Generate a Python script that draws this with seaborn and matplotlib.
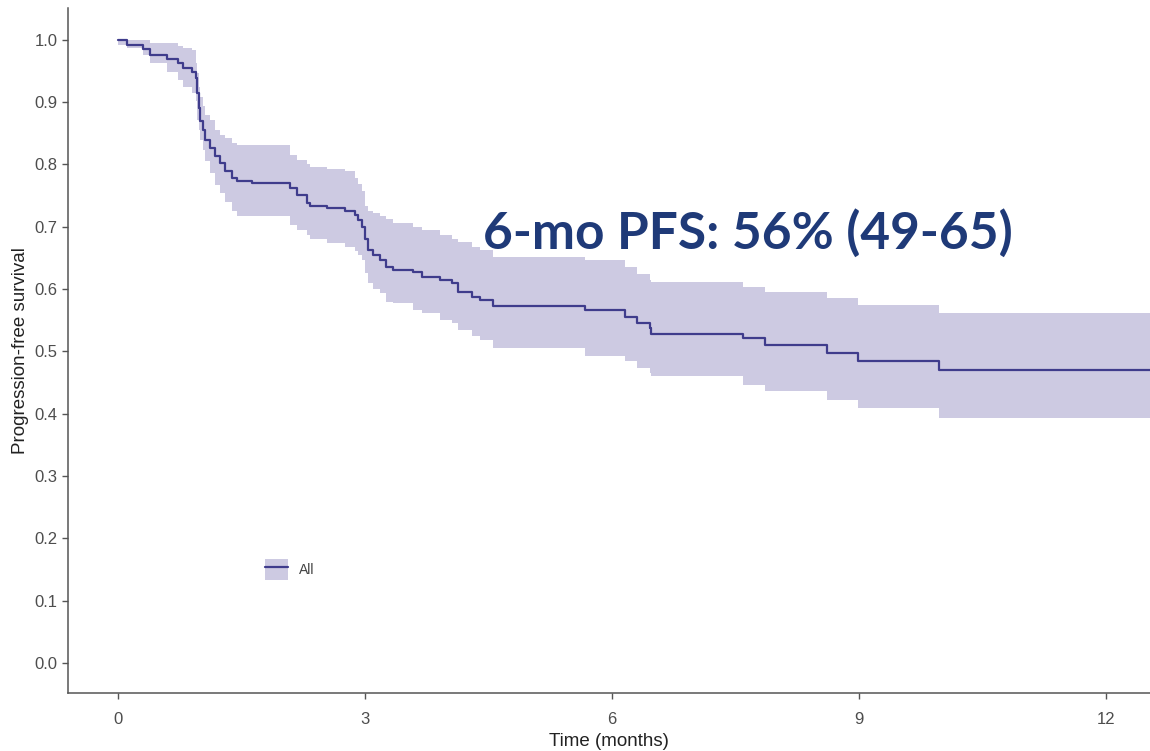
import matplotlib
matplotlib.use("Agg")
import matplotlib.pyplot as plt
import seaborn as sns
import pandas as pd
from matplotlib.patches import Patch
from matplotlib.lines import Line2D

# ---- data ----
time_months = [0, 0.11, 0.30, 0.39, 0.59, 0.73, 0.79, 0.90, 0.94, 0.96, 0.98, 1.00,
               1.03, 1.06, 1.12, 1.18, 1.24, 1.30, 1.38, 1.45, 1.63, 2.09, 2.17, 2.30,
               2.33, 2.54, 2.76, 2.88, 2.92, 2.96, 3.00, 3.04, 3.10, 3.18, 3.26, 3.34,
               3.58, 3.69, 3.91, 4.06, 4.13, 4.30, 4.40, 4.56, 5.67, 6.16, 6.30, 6.46,
               6.48, 7.59, 7.86, 8.61, 8.99, 9.98, 12.55]
survival = [1.000, 0.992, 0.986, 0.976, 0.969, 0.963, 0.954, 0.948, 0.938, 0.915, 0.890, 0.870,
            0.855, 0.840, 0.827, 0.813, 0.802, 0.789, 0.778, 0.773, 0.770, 0.762, 0.751, 0.738,
            0.733, 0.730, 0.725, 0.719, 0.711, 0.700, 0.680, 0.663, 0.655, 0.647, 0.636, 0.631,
            0.628, 0.620, 0.615, 0.609, 0.596, 0.588, 0.583, 0.573, 0.566, 0.555, 0.545, 0.537,
            0.528, 0.521, 0.510, 0.498, 0.485, 0.471, 0.471]
ci_lower = [0.992, 0.987, 0.976, 0.963, 0.949, 0.936, 0.925, 0.915, 0.901, 0.872, 0.856, 0.839,
            0.823, 0.805, 0.786, 0.767, 0.754, 0.740, 0.725, 0.717, 0.717, 0.703, 0.695, 0.687,
            0.680, 0.674, 0.668, 0.661, 0.655, 0.647, 0.626, 0.609, 0.600, 0.594, 0.580, 0.577,
            0.567, 0.562, 0.551, 0.545, 0.535, 0.524, 0.519, 0.505, 0.492, 0.484, 0.473, 0.465,
            0.460, 0.446, 0.436, 0.422, 0.410, 0.393, 0.393]
ci_upper = [1.000, 1.000, 1.000, 0.995, 0.995, 0.990, 0.987, 0.984, 0.963, 0.947, 0.925, 0.909,
            0.893, 0.880, 0.872, 0.856, 0.848, 0.843, 0.835, 0.831, 0.831, 0.815, 0.807, 0.800,
            0.796, 0.792, 0.789, 0.778, 0.768, 0.757, 0.733, 0.725, 0.722, 0.717, 0.712, 0.706,
            0.700, 0.695, 0.687, 0.680, 0.675, 0.668, 0.663, 0.652, 0.647, 0.636, 0.625, 0.615,
            0.612, 0.604, 0.596, 0.585, 0.575, 0.562, 0.562]
group_label = "All"
x_ticks = [0, 3, 6, 9, 12]
y_ticks = [0.0, 0.1, 0.2, 0.3, 0.4, 0.5, 0.6, 0.7, 0.8, 0.9, 1.0]
annotation = "6-mo PFS: 56% (49-65)"

df = pd.DataFrame({"time": time_months, "surv": survival,
                   "lo": ci_lower, "hi": ci_upper, "group": group_label})

# ---- style ----
sns.set_theme(style="ticks")
plt.rcParams["font.family"] = ["Liberation Sans", "DejaVu Sans"]

line_color = "#3f3c8c"
band_color = "#cdcae2"
axis_gray = "#555555"
text_gray = "#4d4d4d"

fig = plt.figure(figsize=(11.5, 7.51), dpi=100)
ax = fig.add_axes([68 / 1150, 58 / 751, 1082 / 1150, 685 / 751])

ax.fill_between(df["time"], df["lo"], df["hi"], step="post",
                color=band_color, linewidth=0, zorder=1)
sns.lineplot(data=df, x="time", y="surv", ax=ax, color=line_color,
             linewidth=1.6, drawstyle="steps-post", estimator=None,
             sort=False, legend=False, zorder=3)

ax.set_xlim(-0.61, 12.54)
ax.set_ylim(-0.048, 1.051)
ax.set_xticks(x_ticks)
ax.set_xticklabels([str(v) for v in x_ticks])
ax.set_yticks(y_ticks)
ax.set_yticklabels([f"{v:.1f}" for v in y_ticks])

ax.set_xlabel("Time (months)", fontsize=13.5, color="#222222", labelpad=4)
ax.set_ylabel("Progression-free survival", fontsize=13.5, color="#222222", labelpad=4)

ax.tick_params(axis="both", colors=axis_gray, labelcolor=text_gray,
               labelsize=12, length=4, width=1, direction="out")
ax.tick_params(axis="x", pad=10)

for side in ["top", "right"]:
    ax.spines[side].set_visible(False)
for side in ["left", "bottom"]:
    ax.spines[side].set_color(axis_gray)
    ax.spines[side].set_linewidth(1.1)

# legend: band patch + line
handle = (Patch(facecolor=band_color, edgecolor="none"),
          Line2D([0], [0], color=line_color, linewidth=1.6))
ax.legend([handle], [group_label], loc="center", bbox_to_anchor=(0.205, 0.18),
          frameon=False, fontsize=10, handlelength=1.7, handleheight=2.0,
          labelcolor="#444444")

ax.text(4.43, 0.69, annotation, fontsize=37, fontweight="bold",
        color="#1f3a78", va="center", ha="left", family=["Lato", "DejaVu Sans"],
        zorder=5)

fig.savefig("out.png", dpi=100)
